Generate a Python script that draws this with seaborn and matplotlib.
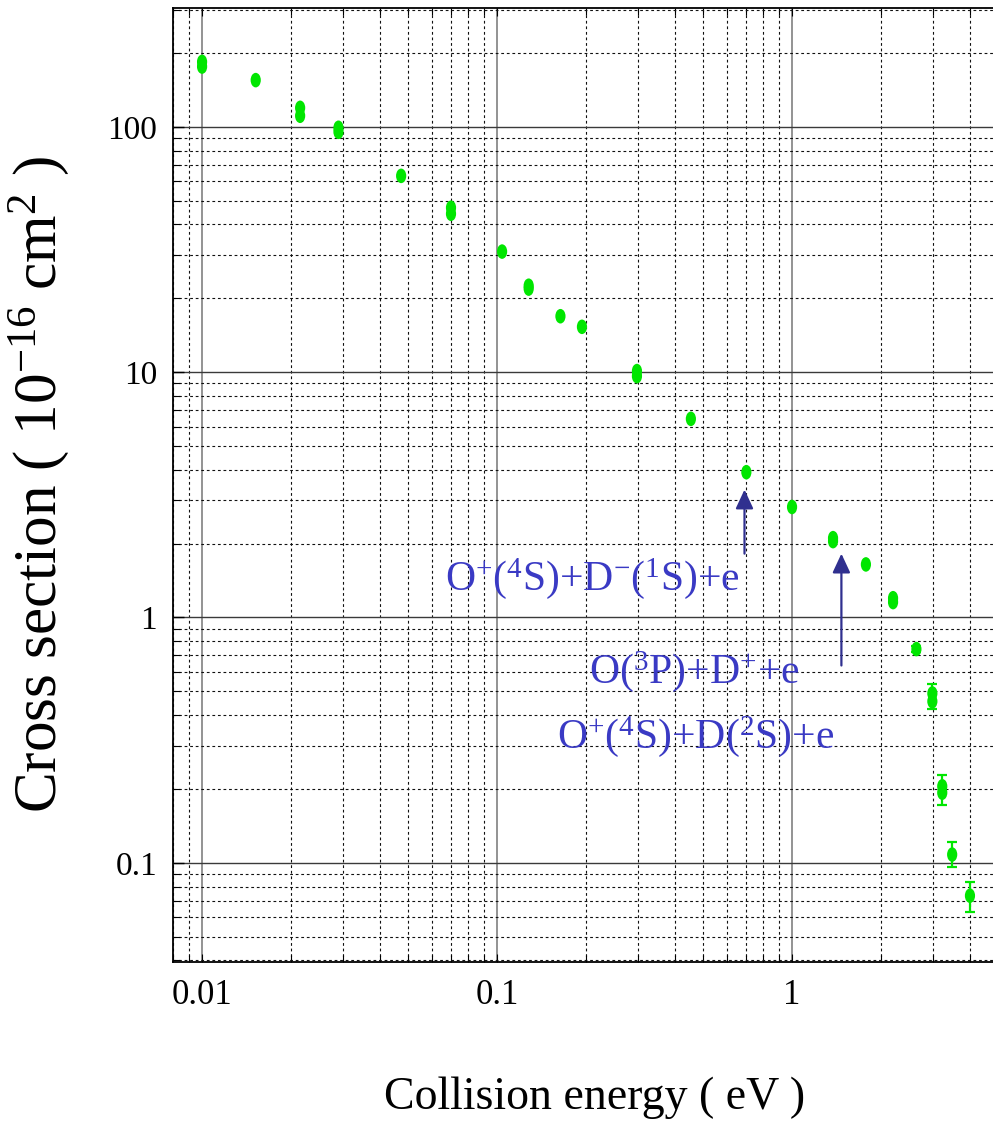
import numpy as np
import matplotlib
matplotlib.use("Agg")
import matplotlib.pyplot as plt
import seaborn as sns
from matplotlib.path import Path
from matplotlib.transforms import Affine2D
from matplotlib.ticker import FixedLocator, FixedFormatter, LogLocator, NullFormatter

# ---------------- data ----------------
energy = [0.01, 0.01, 0.0152, 0.0215, 0.0215, 0.029, 0.029, 0.0473, 0.0698, 0.0698,
          0.104, 0.128, 0.128, 0.164, 0.194, 0.298, 0.298, 0.454, 0.70, 1.0,
          1.377, 1.377, 1.78, 2.20, 2.20, 2.64, 2.99, 2.99, 3.23, 3.23, 3.49, 4.01]
cross_section = [184, 176, 155, 119.5, 110.9, 99.1, 95.4, 63.1, 46.8, 44.2,
                 31.0, 22.5, 21.9, 16.9, 15.3, 10.1, 9.63, 6.45, 3.91, 2.82,
                 2.105, 2.047, 1.645, 1.198, 1.155, 0.743, 0.49, 0.455, 0.205, 0.193, 0.108, 0.0734]

err_energy = [2.64, 2.99, 3.23, 3.49, 4.01]
err_center = [0.743, 0.472, 0.199, 0.108, 0.0734]
err_low = [0.725, 0.425, 0.172, 0.096, 0.063]
err_high = [0.762, 0.533, 0.227, 0.1215, 0.0832]

x_ticks = [0.01, 0.1, 1]
x_tick_labels = ["0.01", "0.1", "1"]
y_ticks = [0.1, 1, 10, 100]
y_tick_labels = ["0.1", "1", "10", "100"]

threshold_energy = [0.69, 1.47]
channel_labels = [r"O$^{+}$($^{4}$S)+D$^{-}$($^{1}$S)+e",
                  r"O($^{3}$P)+D$^{+}$+e",
                  r"O$^{+}$($^{4}$S)+D($^{2}$S)+e"]

xlabel = "Collision energy ( eV )"
ylabel = r"Cross section ( 10$^{-16}$ cm$^{2}$ )"

# ---------------- style ----------------
sns.set_theme(style="white")
plt.rcParams["font.family"] = ["Liberation Serif", "DejaVu Serif"]
plt.rcParams["mathtext.fontset"] = "custom"
plt.rcParams["mathtext.rm"] = "Liberation Serif"
plt.rcParams["mathtext.it"] = "Liberation Serif"
plt.rcParams["mathtext.bf"] = "Liberation Serif:bold"

GREEN = "#00e600"
TEXT_BLUE = "#3a3ac4"
ARROW_BLUE = "#30308f"

fig = plt.figure(figsize=(9.93, 11.42), dpi=100)
ax = fig.add_axes([173 / 993, 1 - 962 / 1142, (993 - 173) / 993, (962 - 8) / 1142])
ax.set_xscale("log")
ax.set_yscale("log")
ax.set_xlim(0.00797, 4.8)
ax.set_ylim(0.0394, 305)

# grid
ax.set_axisbelow(True)
ax.xaxis.set_minor_locator(LogLocator(base=10, subs=np.arange(2, 10), numticks=100))
ax.yaxis.set_minor_locator(LogLocator(base=10, subs=np.arange(2, 10), numticks=100))
ax.xaxis.set_minor_formatter(NullFormatter())
ax.yaxis.set_minor_formatter(NullFormatter())
ax.xaxis.set_major_locator(FixedLocator(x_ticks))
ax.xaxis.set_major_formatter(FixedFormatter(x_tick_labels))
ax.yaxis.set_major_locator(FixedLocator(y_ticks))
ax.yaxis.set_major_formatter(FixedFormatter(y_tick_labels))

ax.grid(which="minor", color="#111111", lw=0.8, ls=(0, (2.5, 2.5)))
ax.grid(which="major", axis="y", color="#3a3a3a", lw=1.0, ls="-")
ax.grid(which="major", axis="x", color="#8a8a8a", lw=1.3, ls="-")

for s in ["left", "bottom", "top"]:
    ax.spines[s].set_color("black")
    ax.spines[s].set_linewidth(1.3)
ax.spines["right"].set_visible(False)

ax.tick_params(axis="both", which="both", direction="in", colors="black")
ax.tick_params(axis="y", which="major", length=8, width=1, pad=11.5, labelsize=24, left=True)
ax.tick_params(axis="y", which="minor", length=5, width=0.8, left=True)
ax.tick_params(axis="x", which="major", length=6, width=0.8, pad=12, labelsize=25,
               bottom=True, top=True)
ax.tick_params(axis="x", which="minor", length=5, width=0.8, bottom=True, top=True)

# ---------------- data marks ----------------
ellipse = Path.unit_circle().transformed(Affine2D().scale(0.7, 1.0))
lo = np.array(err_center) - np.array(err_low)
hi = np.array(err_high) - np.array(err_center)
ax.errorbar(err_energy, err_center, yerr=[lo, hi], fmt="none", ecolor=GREEN,
            elinewidth=1.6, capsize=3.3, capthick=1.6, zorder=3)
sns.scatterplot(x=energy, y=cross_section, ax=ax, marker=ellipse, s=110,
                color=GREEN, edgecolor="none", linewidth=0, zorder=4, legend=False)

# ---------------- annotations ----------------
arrow_tip = [3.32, 1.82]
arrow_base = [1.82, 0.637]
for e, t, b in zip(threshold_energy, arrow_tip, arrow_base):
    ax.annotate("", xy=(e, t), xytext=(e, b),
                arrowprops=dict(arrowstyle="-|>,head_length=0.58,head_width=0.27",
                                mutation_scale=20, lw=1.6, color=ARROW_BLUE,
                                shrinkA=0, shrinkB=0))

label_pos = [(0.3317, 0.390), (0.5073, 0.2925), (0.4683, 0.2243)]
for txt, (px, py) in zip(channel_labels, label_pos):
    ax.text(px, py, txt, transform=ax.transAxes, fontsize=30, color=TEXT_BLUE,
            ha="left", va="baseline")

ax.set_xlabel(xlabel, fontsize=33, color="black")
ax.set_ylabel(ylabel, fontsize=44, color="black")
ax.xaxis.set_label_coords(0.5146, -0.12)
ax.yaxis.set_label_coords(-0.124, 0.5)

fig.savefig("out.png", dpi=100)
